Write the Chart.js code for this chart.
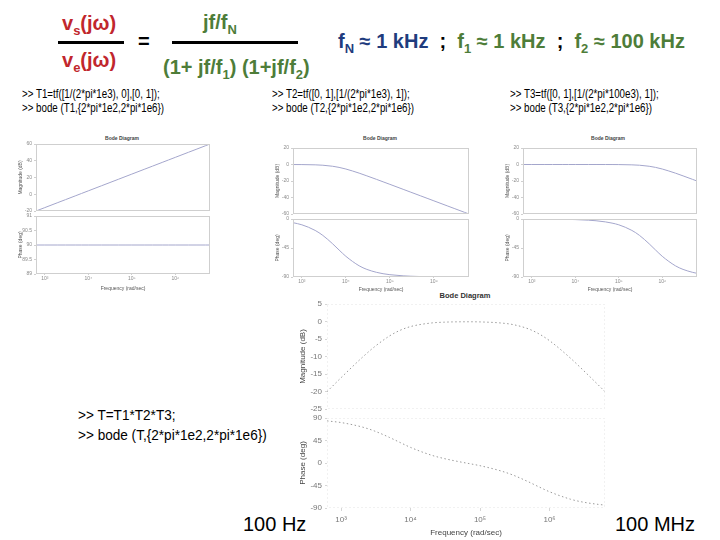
<!DOCTYPE html>
<html>
<head>
<meta charset="utf-8">
<script src="https://cdn.jsdelivr.net/npm/chart.js@4/dist/chart.umd.min.js"></script>
<style>
  html, body { margin:0; padding:0; background:#fff; overflow:hidden; }
  #stage { position:relative; width:720px; height:540px; overflow:hidden; }
  .t { position:absolute; font: bold 20px 'Liberation Sans', Arial, sans-serif; line-height:1; white-space:nowrap; color:#000; }
  .sb { font-size:13px; position:relative; top:5px; }
  .red { color:#c1272d; }
  .green { color:#4e7d39; }
  .blue { color:#1f3c7e; }
  .bar { position:absolute; height:3px; background:#000; }
  .code { position:absolute; font: 13px 'Liberation Sans', Arial, sans-serif; line-height:1; white-space:nowrap; transform: scaleX(0.75); transform-origin:0 0; color:#000; }
  .code2 { position:absolute; font: 14px 'Liberation Sans', Arial, sans-serif; line-height:1; white-space:nowrap; transform: scaleX(0.97); transform-origin:0 0; color:#000; }
  .big { position:absolute; font: 20px 'Liberation Sans', Arial, sans-serif; line-height:1; white-space:nowrap; color:#000; }
  .bt { position:absolute; font: bold 5px 'Liberation Sans', Arial, sans-serif; line-height:1; white-space:nowrap; color:#444; transform:translateX(-50%); }
  .bt2 { position:absolute; font: bold 7.5px 'Liberation Sans', Arial, sans-serif; line-height:1; white-space:nowrap; color:#333; transform:translateX(-50%); }
</style>
</head>
<body>
<div id="stage">
  <div class="t red" style="left:62px;top:13px">v<span class="sb">s</span>(jω)</div>
  <div class="bar" style="left:58px;top:41px;width:66px"></div>
  <div class="t" style="left:138px;top:31px">=</div>
  <div class="t red" style="left:62px;top:50px">v<span class="sb">e</span>(jω)</div>
  <div class="t green" style="left:203px;top:12px">jf/f<span class="sb">N</span></div>
  <div class="bar" style="left:172px;top:41px;width:126px"></div>
  <div class="t green" style="left:163px;top:57px">(1+ jf/f<span class="sb">1</span>) (1+jf/f<span class="sb">2</span>)</div>
  <div class="t" style="left:338px;top:31px"><span class="blue">f<span class="sb">N</span> ≈ 1 kHz</span>&nbsp; ; &nbsp;<span class="green">f<span class="sb">1</span> ≈ 1 kHz</span>&nbsp; ; &nbsp;<span class="green">f<span class="sb">2</span> ≈ 100 kHz</span></div>

  <div class="code" style="left:22px;top:87px">&gt;&gt; T1=tf([1/(2*pi*1e3), 0],[0, 1]);</div>
  <div class="code" style="left:22px;top:101px">&gt;&gt; bode (T1,{2*pi*1e2,2*pi*1e6})</div>
  <div class="code" style="left:272px;top:87px">&gt;&gt; T2=tf([0, 1],[1/(2*pi*1e3), 1]);</div>
  <div class="code" style="left:272px;top:101px">&gt;&gt; bode (T2,{2*pi*1e2,2*pi*1e6})</div>
  <div class="code" style="left:510px;top:87px">&gt;&gt; T3=tf([0, 1],[1/(2*pi*100e3), 1]);</div>
  <div class="code" style="left:510px;top:101px">&gt;&gt; bode (T3,{2*pi*1e2,2*pi*1e6})</div>

  <div class="code2" style="left:78px;top:408px">&gt;&gt; T=T1*T2*T3;</div>
  <div class="code2" style="left:78px;top:428px">&gt;&gt; bode (T,{2*pi*1e2,2*pi*1e6})</div>

  <div class="big" style="left:243px;top:514px">100 Hz</div>
  <div class="big" style="left:615px;top:514px">100 MHz</div>

  <div class="bt" style="left:122px;top:136px">Bode Diagram</div>
  <div class="bt" style="left:380px;top:136px">Bode Diagram</div>
  <div class="bt" style="left:608px;top:136px">Bode Diagram</div>
  <div class="bt2" style="left:465px;top:292px">Bode Diagram</div>
</div>
<script>
// ---- data (rad/s) ----
const omega = [628, 1000, 2000, 3000, 5000, 7000, 1e4, 2e4, 3e4, 5e4, 7e4, 1e5, 2e5, 3e5, 5e5, 7e5, 1e6, 2e6, 3e6, 5e6, 6.28e6];
const t1Mag = [-20.0, -15.96, -9.94, -6.42, -1.98, 0.94, 4.04, 10.06, 13.58, 18.02, 20.94, 24.04, 30.06, 33.58, 38.02, 40.94, 44.04, 50.06, 53.58, 58.02, 60.0];
const t1Phase = [90, 90, 90, 90, 90, 90, 90, 90, 90, 90, 90, 90, 90, 90, 90, 90, 90, 90, 90, 90, 90];
const t2Mag = [-0.04, -0.11, -0.41, -0.88, -2.13, -3.5, -5.48, -10.47, -13.77, -18.08, -20.97, -24.05, -30.07, -33.58, -38.02, -40.94, -44.04, -50.06, -53.58, -58.02, -60.0];
const t2Phase = [-5.7, -9.0, -17.7, -25.5, -38.5, -48.1, -57.9, -72.6, -78.2, -82.8, -84.9, -86.4, -88.2, -88.8, -89.3, -89.5, -89.6, -89.8, -89.9, -89.9, -89.9];
const t3Mag = [0, 0, 0, 0, 0, 0, 0, 0, -0.01, -0.03, -0.05, -0.11, -0.42, -0.89, -2.13, -3.5, -5.48, -10.47, -13.77, -18.08, -20.04];
const t3Phase = [-0.06, -0.09, -0.18, -0.27, -0.46, -0.64, -0.91, -1.82, -2.73, -4.55, -6.36, -9.0, -17.7, -25.5, -38.5, -48.1, -57.9, -72.6, -78.2, -82.8, -84.3];
const tMag = [-20.04, -16.07, -10.35, -7.30, -4.11, -2.56, -1.45, -0.42, -0.20, -0.09, -0.08, -0.12, -0.43, -0.89, -2.13, -3.50, -5.48, -10.47, -13.77, -18.08, -20.04];
const tPhase = [84.2, 80.9, 72.1, 64.2, 51.0, 41.3, 31.2, 15.6, 9.1, 2.6, -1.2, -5.4, -15.9, -24.3, -37.8, -47.6, -57.5, -72.4, -78.1, -82.7, -84.2];

// ---- ticks ----
const xTickValues = [1e3, 1e4, 1e5, 1e6];
const xTickLabels = ['10³', '10⁴', '10⁵', '10⁶'];
const t1MagTicks = [-20, 0, 20, 40, 60];
const t1PhaseTicks = [89, 89.5, 90, 90.5, 91];
const lpMagTicks = [-60, -40, -20, 0, 20];
const lpPhaseTicks = [-90, -45, 0];
const tMagTicks = [-25, -20, -15, -10, -5, 0, 5];
const tPhaseTicks = [-90, -45, 0, 45, 90];

const X_MIN = 628.3, X_MAX = 6.283e6;
Chart.defaults.font.family = "'Liberation Sans', Arial, sans-serif";

const framePlugin = {
  id: 'frame',
  afterDatasetsDraw(chart, args, opts) {
    if (!opts || !opts.color) return;
    const {left, top, right, bottom} = chart.chartArea;
    const ctx = chart.ctx;
    ctx.save();
    ctx.strokeStyle = opts.color;
    ctx.lineWidth = 1;
    ctx.setLineDash(opts.dash || []);
    ctx.strokeRect(Math.round(left) + 0.5, Math.round(top) + 0.5, Math.round(right - left) - 1, Math.round(bottom - top) - 1);
    ctx.restore();
  }
};

function makePlot(box, o) {
  const P = 10;
  const xh = o.showX ? o.xAxisH : 0;
  const w = o.axisW + box.w + P, h = P + box.h + xh + P;
  const c = document.createElement('canvas');
  c.width = w; c.height = h;
  c.style.cssText = `position:absolute;left:${box.x - o.axisW}px;top:${box.y - P}px;width:${w}px;height:${h}px;`;
  document.getElementById('stage').appendChild(c);
  const fs = o.fs;
  new Chart(c, {
    type: 'line',
    data: { datasets: [{
      data: o.xs.map((x, i) => ({x: x, y: o.ys[i]})),
      borderColor: o.color, borderWidth: o.lw, borderDash: o.dash || [],
      pointRadius: 0, cubicInterpolationMode: 'monotone', fill: false
    }]},
    options: {
      responsive: false, animation: false, events: [],
      layout: { padding: { left: 0, top: P, right: P, bottom: P } },
      plugins: { legend: {display: false}, tooltip: {enabled: false}, title: {display: false},
                 frame: { color: o.frame, dash: o.frameDash } },
      scales: {
        x: {
          type: 'logarithmic', min: X_MIN, max: X_MAX, display: o.showX,
          afterBuildTicks: s => { s.ticks = xTickValues.map(v => ({value: v})); },
          afterFit: s => { s.height = xh; },
          ticks: { autoSkip: false, maxRotation: 0, padding: o.xPad, color: o.tickColor,
                   font: {size: fs}, callback: (v, i) => xTickLabels[i] },
          grid: { display: true, drawOnChartArea: false, tickLength: o.xTl, color: o.tickMark },
          border: { display: false },
          title: { display: true, text: 'Frequency (rad/sec)', color: o.titleColor,
                   font: {size: o.tfs}, padding: {top: 0, bottom: 1} }
        },
        y: {
          min: o.yTicks[0], max: o.yTicks[o.yTicks.length - 1],
          afterBuildTicks: s => { s.ticks = o.yTicks.map(v => ({value: v})); },
          afterFit: s => { s.width = o.axisW; },
          ticks: { autoSkip: false, padding: o.yPad, color: o.tickColor, font: {size: fs},
                   callback: v => String(v) },
          grid: { display: true, drawOnChartArea: false, tickLength: 2, color: o.tickMark },
          border: { display: false },
          title: { display: true, text: o.yTitle, color: o.titleColor,
                   font: {size: o.tfs}, padding: {top: 2, bottom: 0} }
        }
      }
    },
    plugins: [framePlugin]
  });
}

const small = { axisW: 20, fs: 5, tfs: 5, xPad: 1, xTl: 1, yPad: 2,
  tickColor: '#8a8a8a', titleColor: '#555', tickMark: '#d0d0d0',
  color: '#a4a6cc', lw: 1, frame: '#cfcfcf' };

// Plot 1
makePlot({x: 36, y: 144, w: 174, h: 67}, Object.assign({}, small, {xs: omega, ys: t1Mag, yTicks: t1MagTicks, yTitle: 'Magnitude (dB)', showX: false}));
makePlot({x: 36, y: 216, w: 174, h: 58}, Object.assign({}, small, {xs: omega, ys: t1Phase, yTicks: t1PhaseTicks, yTitle: 'Phase (deg)', showX: true, xAxisH: 19}));
// Plot 2
makePlot({x: 293, y: 148, w: 176, h: 66}, Object.assign({}, small, {xs: omega, ys: t2Mag, yTicks: lpMagTicks, yTitle: 'Magnitude (dB)', showX: false}));
makePlot({x: 293, y: 219, w: 176, h: 58}, Object.assign({}, small, {xs: omega, ys: t2Phase, yTicks: lpPhaseTicks, yTitle: 'Phase (deg)', showX: true, xAxisH: 17}));
// Plot 3
makePlot({x: 523, y: 148, w: 174, h: 66}, Object.assign({}, small, {xs: omega, ys: t3Mag, yTicks: lpMagTicks, yTitle: 'Magnitude (dB)', showX: false}));
makePlot({x: 523, y: 219, w: 174, h: 58}, Object.assign({}, small, {xs: omega, ys: t3Phase, yTicks: lpPhaseTicks, yTitle: 'Phase (deg)', showX: true, xAxisH: 17}));

// Large plot
const large = { axisW: 31, fs: 8, tfs: 8, xPad: 4, xTl: 3, yPad: 3,
  tickColor: '#777', titleColor: '#444', tickMark: '#d6d6d6',
  color: '#9a9a9a', lw: 1, dash: [1.5, 2.5], frame: '#e2e2e2', frameDash: [1, 3] };
makePlot({x: 327, y: 304, w: 278, h: 105}, Object.assign({}, large, {xs: omega, ys: tMag, yTicks: tMagTicks, yTitle: 'Magnitude (dB)', showX: false}));
makePlot({x: 327, y: 418, w: 278, h: 90}, Object.assign({}, large, {xs: omega, ys: tPhase, yTicks: tPhaseTicks, yTitle: 'Phase (deg)', showX: true, xAxisH: 31}));
</script>
</body>
</html>
